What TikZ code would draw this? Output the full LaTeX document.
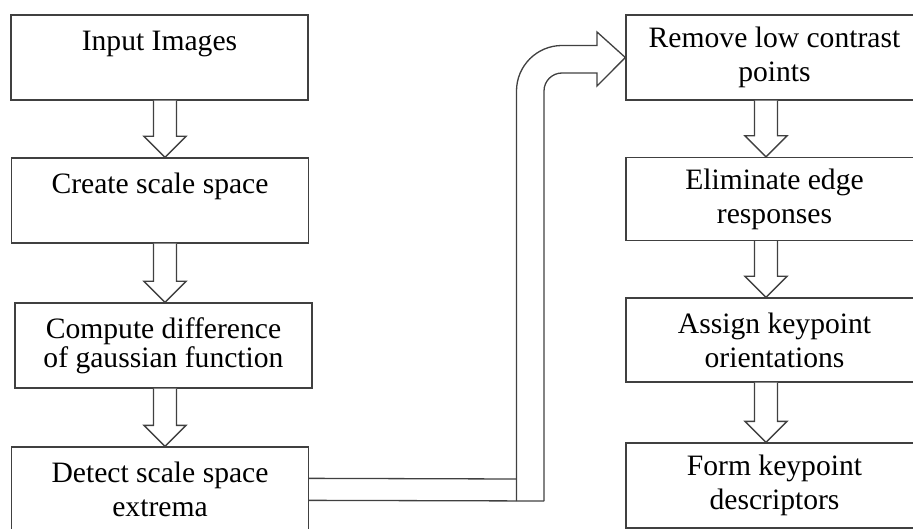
\documentclass[tikz,border=0pt]{standalone}
\usepackage{fontspec}
\setmainfont{Liberation Serif}
\usetikzlibrary{calc}

\tikzset{
  stepbox/.style={draw=black!75, line width=1.3pt, minimum width=297pt, minimum height=85pt,
    inner sep=0pt, align=center, font=\fontsize{29.6}{34}\selectfont},
  hollow/.style={draw=black!75, line width=1.3pt, fill=white, line join=miter}
}

\begin{document}
\begin{tikzpicture}[x=1pt,y=-1pt]
\useasboundingbox (0,0) rectangle (913,529);

% left column
\node[stepbox] (in)  at (159.5,57.5) {Input Images\\\mbox{}};
\node[stepbox] (css) at (160,200.5) {Create scale space\\\mbox{}};
\node[stepbox, font=\fontsize{29.6}{29}\selectfont] (cdg) at (163.5,345.5) {Compute difference\\of gaussian function};
\node[stepbox] (dss) at (160,489.5) {Detect scale space\\extrema};

% right column
\node[stepbox] (rlc) at (774.5,57.5) {Remove low contrast\\points};
\node[stepbox, minimum height=83pt] (eer) at (774.5,199) {Eliminate edge\\responses};
\node[stepbox, minimum height=84pt] (ako) at (774.5,340) {Assign keypoint\\orientations};
\node[stepbox] (fkd) at (774.5,485.5) {Form keypoint\\descriptors};

% block arrows down
\foreach \a/\b/\d in {in/css/5.5, css/cdg/5, cdg/dss/1.5, rlc/eer/-8.5, eer/ako/-8.5, ako/fkd/-8.5}
  \draw[hollow] let \p1=($(\a.south)+(\d,0)$), \p2=(\b.north) in
    (\x1-11.5pt,\y1) -- (\x1-11.5pt,\y2+21pt) -- (\x1-21pt,\y2+21pt) -- (\x1,\y2)
    -- (\x1+21pt,\y2+21pt) -- (\x1+11.5pt,\y2+21pt) -- (\x1+11.5pt,\y1);

% big bent arrow
\coordinate (e1) at ($(dss.north east)+(0,32)$);
\coordinate (e2) at ($(dss.north east)+(0,54)$);
\draw[hollow, fill=none] (e1) -- (516.5,479);
\draw[hollow, fill=none] (e2) -- (544,501);
\draw[hollow, fill=none] (516.5,501) -- (516.5,91) arc[start angle=180, end angle=270, radius=45.5]
  -- (597,45.5) -- (597,32) -- (rlc.west) -- (597,86) -- (597,73)
  -- (562,73) arc[start angle=270, end angle=180, radius=18] -- (544,501);

\end{tikzpicture}
\end{document}
